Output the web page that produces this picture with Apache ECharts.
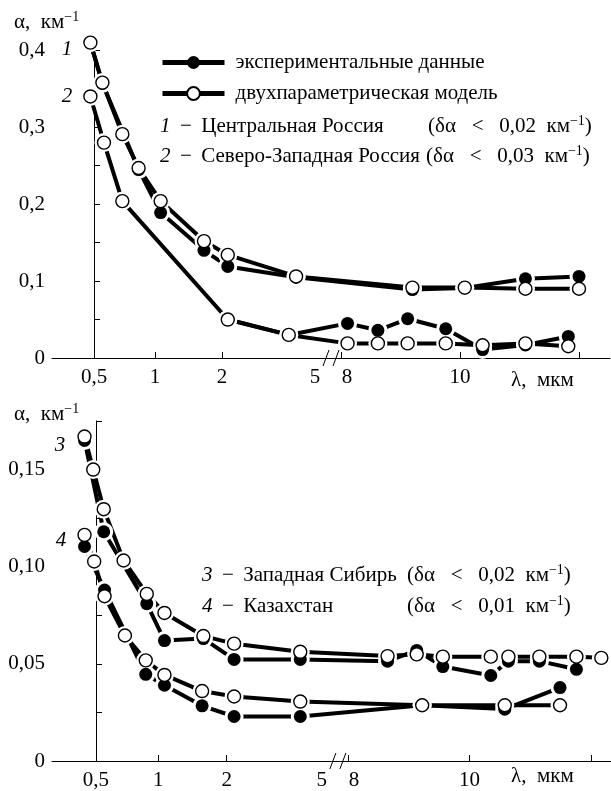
<!DOCTYPE html>
<html lang="ru">
<head>
<meta charset="utf-8" />
<title>Коэффициент ослабления α(λ)</title>
<script src="https://cdn.jsdelivr.net/npm/echarts@6/dist/echarts.min.js"></script>
<style>
  html, body { margin: 0; background: #fff; }
  #chart { width: 611px; height: 791px; }
</style>
</head>
<body>
<div id="chart"></div>
<script>
// ось λ с разрывом: слева логарифм (0,5..5 мкм), справа линейно (8..12 мкм)
const tickLam = [0.5, 1, 2, 5, 8, 10, 12];
const tickPos = [0, 61, 128, 227, 247, 366, 485];
const tickText = ['0,5', '1', '2', '5', '8', '10', ''];

// 1 - Центральная Россия
const lamC = [0.48, 0.55, 0.69, 0.83, 1.06, 1.66, 2.11, 3.97, 9.2, 10.08, 11.1, 12];
const modC = [0.41, 0.358, 0.291, 0.247, 0.204, 0.152, 0.134, 0.106, 0.0915, 0.0915, 0.09, 0.09];
const lamCexp = [0.48, 0.55, 0.83, 1.06, 1.66, 2.11, 3.97, 9.2, 10.08, 11.1, 12];
const expC = [0.41, 0.357, 0.245, 0.189, 0.14, 0.119, 0.105, 0.089, 0.091, 0.103, 0.106];

// 2 - Северо-Западная Россия
const lamNW = [0.48, 0.56, 0.69, 2.11, 3.71, 8.11, 8.62, 9.12, 9.76, 10.38, 11.1, 11.82];
const modNW = [0.34, 0.28, 0.204, 0.05, 0.03, 0.019, 0.019, 0.019, 0.019, 0.0166, 0.019, 0.0153];
const lamNWexp = [2.11, 3.71, 8.11, 8.62, 9.12, 9.76, 10.38, 11.1, 11.82];
const expNW = [0.05, 0.03, 0.045, 0.036, 0.051, 0.038, 0.011, 0.017, 0.028];

// 3 - Западная Сибирь
const lamWS = [0.44, 0.485, 0.545, 0.68, 0.88, 1.065, 1.58, 2.14, 3.9, 8.65, 9.13, 9.56, 10.35, 10.64, 11.15, 11.76, 12.17];
const modWS = [0.167, 0.150, 0.1296, 0.1032, 0.086, 0.0762, 0.0643, 0.0604, 0.0562, 0.054, 0.0549, 0.0537, 0.0537, 0.0537, 0.0537, 0.0537, 0.0531];
const lamWSexp = [0.44, 0.545, 0.88, 1.065, 1.58, 2.14, 3.9, 8.65, 9.13, 9.56, 10.35, 10.64, 11.15, 11.76];
const expWS = [0.165, 0.118, 0.081, 0.062, 0.063, 0.0523, 0.0523, 0.0514, 0.0569, 0.0486, 0.044, 0.0514, 0.0514, 0.0472];

// 4 - Казахстан
const lamKZ = [0.44, 0.49, 0.55, 0.69, 0.87, 1.065, 1.56, 2.14, 3.9, 9.22, 10.58, 11.49];
const modKZ = [0.1164, 0.1027, 0.0848, 0.0646, 0.0518, 0.0443, 0.036, 0.0332, 0.0306, 0.0287, 0.0287, 0.0287];
const lamKZexp = [0.44, 0.55, 0.87, 1.065, 1.56, 2.14, 3.9, 9.22, 10.58, 11.49];
const expKZ = [0.1104, 0.088, 0.0446, 0.039, 0.0284, 0.0229, 0.0229, 0.0287, 0.0267, 0.0378];

const yTicksTop = [0, 0.05, 0.1, 0.15, 0.2, 0.25, 0.3, 0.35, 0.4];
const yLabelsTop = [0, 0.1, 0.2, 0.3, 0.4];
const yTicksBot = [0, 0.025, 0.05, 0.075, 0.1, 0.125, 0.15, 0.175];
const yLabelsBot = [0, 0.05, 0.1, 0.15];

const EXP = 'экспериментальные данные';
const MOD = 'двухпараметрическая модель';
const FONT = '"Liberation Serif", "DejaVu Serif", serif';
const FS = 21;
const EN = '\u2002';
const SP = ' \u2009';

// λ -> позиция на оси
function toPos(l) {
  const left = l < 6.5;
  const idx = left ? [0, 1, 2, 3] : [4, 5, 6];
  const f = left ? Math.log : (v => v);
  let i = idx[0];
  for (let k = 0; k < idx.length - 1; k++) if (l >= tickLam[idx[k]]) i = idx[k];
  const t = (f(l) - f(tickLam[i])) / (f(tickLam[i + 1]) - f(tickLam[i]));
  return tickPos[i] + t * (tickPos[i + 1] - tickPos[i]);
}
const pts = (lams, vals) => lams.map((l, i) => [toPos(l), vals[i]]);

const expStyle = { color: '#000', opacity: 1 };
const modStyle = { color: '#fff', borderColor: '#000', borderWidth: 1.4, opacity: 1 };

const series = [];
function curve(g, lams, vals, kind, tag, tagOffset) {
  const data = pts(lams, vals);
  const isExp = kind === 'exp';
  series.push({
    type: 'line', name: isExp ? EXP : MOD, xAxisIndex: g, yAxisIndex: g,
    data, symbol: 'none', z: 1, silent: true,
    lineStyle: { color: '#000', width: 4 },
    itemStyle: isExp ? expStyle : modStyle,
    emphasis: { disabled: true }
  });
  series.push({
    type: 'scatter', name: 'halo', xAxisIndex: g, yAxisIndex: g,
    data, symbolSize: 19, z: 2, silent: true,
    itemStyle: { color: '#fff', opacity: 1 }
  });
  series.push({
    type: 'scatter', name: kind + 'pts', xAxisIndex: g, yAxisIndex: g,
    data, symbolSize: 13, z: isExp ? 3 : 4, silent: true,
    itemStyle: isExp ? expStyle : modStyle,
    label: tag ? {
      show: true, position: 'left', distance: 11, offset: tagOffset,
      fontFamily: FONT, fontSize: FS, fontStyle: 'italic', color: '#000',
      formatter: p => p.dataIndex === 0 ? tag : ''
    } : { show: false }
  });
}
curve(0, lamCexp, expC, 'exp');
curve(0, lamNWexp, expNW, 'exp');
curve(0, lamC, modC, 'mod', '1', [0, 7]);
curve(0, lamNW, modNW, 'mod', '2', [0, 0]);
curve(1, lamWSexp, expWS, 'exp');
curve(1, lamKZexp, expKZ, 'exp');
curve(1, lamWS, modWS, 'mod', '3', [-1, 9]);
curve(1, lamKZ, modKZ, 'mod', '4', [0, 6]);

const tickPosList = tickLam.map(toPos);
function xAxis(g, min, max) {
  return {
    type: 'value', gridIndex: g, min, max,
    axisLine: { lineStyle: { color: '#000', width: 1 } },
    splitLine: { show: false },
    axisTick: { inside: true, length: 6, lineStyle: { color: '#000' },
      customValues: tickPosList.filter((p, i) => tickLam[i] !== 5) },
    axisLabel: {
      customValues: tickPosList.filter((p, i) => tickText[i] !== ''),
      margin: 9, color: '#000', fontFamily: FONT, fontSize: FS,
      formatter: v => {
        const i = tickPosList.findIndex(p => Math.abs(p - v) < 0.5);
        const t = tickText[i];
        if (t === '5') return '{l|5}';
        if (t === '8') return '{r|8}';
        return t;
      },
      rich: {
        l: { fontFamily: FONT, fontSize: FS, color: '#000', padding: [0, 12, 0, 0] },
        r: { fontFamily: FONT, fontSize: FS, color: '#000', padding: [0, 0, 0, 12] }
      }
    }
  };
}
function yAxis(g, max, ticks, labels, digits) {
  return {
    type: 'value', gridIndex: g, min: 0, max,
    axisLine: { show: true, lineStyle: { color: '#000', width: 1 } },
    splitLine: { show: false },
    axisTick: { show: true, inside: true, length: 6, lineStyle: { color: '#000' }, customValues: ticks },
    axisLabel: {
      customValues: labels, margin: 7, color: '#000', fontFamily: FONT, fontSize: FS,
      formatter: v => v === 0 ? '0' : v.toFixed(digits).replace('.', ',')
    }
  };
}

const sup = { fontFamily: FONT, fontSize: 14, color: '#000', padding: [0, 0, 10, 0] };
const ita = { fontFamily: FONT, fontSize: FS, color: '#000', fontStyle: 'italic' };
function txt(x, y, text) {
  return {
    type: 'text', x, y, silent: true,
    style: { text, fontFamily: FONT, fontSize: FS, fill: '#000', verticalAlign: 'middle',
      rich: { s: sup, i: ita } }
  };
}
const tag = (n, name) => '{i|' + n + '}' + SP + '−' + SP + name;
const delta = v => '(δα' + EN + ' <' + EN + ' ' + v + EN + 'км{s|−1})';

const chart = echarts.init(document.getElementById('chart'));
chart.setOption({
  animation: false,
  backgroundColor: '#fff',
  grid: [
    { left: 52, right: 1, top: 38, height: 320 },
    { left: 52, right: 0, top: 421, height: 341 }
  ],
  xAxis: [xAxis(0, -42, 516), xAxis(1, -43.1, 504.6)],
  yAxis: [
    yAxis(0, 0.416, yTicksTop, yLabelsTop, 1),
    yAxis(1, 0.175, yTicksBot, yLabelsBot, 2)
  ],
  legend: {
    data: [EXP, MOD], orient: 'vertical', left: 155, top: 47,
    itemWidth: 62, itemHeight: 16, itemGap: 10, selectedMode: false,
    lineStyle: { width: 5 },
    textStyle: { fontFamily: FONT, fontSize: FS, color: '#000', padding: [0, 0, 0, 6] }
  },
  series,
  graphic: [
    txt(14, 22, 'α,  км{s|−1}'),
    txt(14, 414, 'α,  км{s|−1}'),
    txt(160, 126, tag(1, 'Центральная Россия')),
    txt(428, 126, delta('0,02')),
    txt(160, 156, tag(2, 'Северо-Западная Россия')),
    txt(426, 156, delta('0,03')),
    txt(202, 575, tag(3, 'Западная Сибирь')),
    txt(407, 575, delta('0,02')),
    txt(202, 606, tag(4, 'Казахстан')),
    txt(407, 606, delta('0,01')),
    txt(511, 380, 'λ,  мкм'),
    txt(511, 776, 'λ,  мкм')
  ]
});

// значки разрыва оси "//"
const breakPos = (toPos(5) + toPos(8)) / 2;
const marks = [0, 1].map(g => {
  const c = chart.convertToPixel({ gridIndex: g }, [breakPos, 0]);
  return [-5, 5].map(dx => ({
    type: 'line', silent: true, z: 10,
    shape: { x1: c[0] + dx - 3, y1: c[1] + 8, x2: c[0] + dx + 3, y2: c[1] - 8 },
    style: { stroke: '#000', lineWidth: 1 }
  }));
}).flat();
chart.setOption({ graphic: marks.map((m, i) => Object.assign({ id: 'br' + i }, m)) });
</script>
</body>
</html>
